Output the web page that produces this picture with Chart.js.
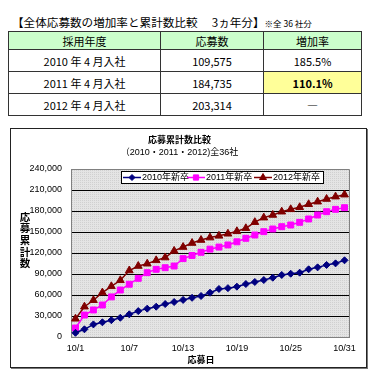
<!DOCTYPE html>
<html><head><meta charset="utf-8">
<script src="https://cdn.jsdelivr.net/npm/chart.js@4/dist/chart.umd.min.js"></script>
<style>
html,body{margin:0;padding:0;background:#fff;width:384px;height:385px;overflow:hidden;font-family:'Noto Sans CJK JP',sans-serif;}
#head{position:absolute;left:12px;top:14px;font-size:11.6px;line-height:16px;white-space:nowrap;color:#000}
#head small{font-size:8.5px;}
table{position:absolute;left:8px;top:31px;border-collapse:collapse;font-size:11px;color:#000;}
td,th{border:1px solid #333;text-align:center;padding:0;font-weight:normal;line-height:14px;}
th{background:#ccffcc;height:17px;}
td{height:21px;}
td.hl{background:#ffff99;font-weight:bold;}
#box{position:absolute;left:10px;top:128px;width:355px;height:238px;border:1px solid #222;box-shadow:1px 1px 0 #777;}
#wrap{position:absolute;left:10px;top:128px;width:366px;height:240px;}
</style></head>
<body>
<div id="head">【全体応募数の増加率と累計数比較　 3ヵ年分】<small>※全 36 社分</small></div>
<table>
<tr><th style="width:151px">採用年度</th><th style="width:102px">応募数</th><th style="width:97px">増加率</th></tr>
<tr><td>2010 年 4 月入社</td><td>109,575</td><td>185.5%</td></tr>
<tr><td>2011 年 4 月入社</td><td>184,735</td><td class="hl">110.1%</td></tr>
<tr><td>2012 年 4 月入社</td><td>203,314</td><td>―</td></tr>
</table>
<div id="box"></div>
<div id="wrap"><canvas id="c" width="366" height="240"></canvas></div>
<script>
const days = ['10/1','10/2','10/3','10/4','10/5','10/6','10/7','10/8','10/9','10/10','10/11','10/12','10/13','10/14','10/15','10/16','10/17','10/18','10/19','10/20','10/21','10/22','10/23','10/24','10/25','10/26','10/27','10/28','10/29','10/30','10/31'];
const seriesNames = ['2010年新卒','2011年新卒','2012年新卒'];
const s2010 = [6000,11000,18000,21000,24000,27500,32400,37000,40500,43300,47100,50000,53000,56000,58600,63300,68600,69800,71900,75700,78600,81400,84700,88600,90400,91900,96700,99500,102900,105200,109575];
const s2011 = [12800,31400,38600,45700,57300,67100,75400,83800,91900,96700,99000,101400,112000,116500,121000,125500,128500,131500,136000,141000,145700,150500,154300,157600,160000,163800,168600,174300,179000,182400,184735];
const s2012 = [26000,43300,52500,63500,72400,81000,95000,101400,104700,109500,113500,123000,128500,134200,138500,142000,144500,147500,151000,155300,164000,170500,174300,179000,182400,185300,189600,193300,197100,200500,203314];
const yTicks = [0,30000,60000,90000,120000,150000,180000,210000,240000];
const chartTitle = '応募累計数比較';
const chartSubtitle = '（2010・2011・2012)全36社';
const yTitle = '応募累計数';
const xTitle = '応募日';

const FONT = "'Liberation Sans','Noto Sans CJK JP',sans-serif";
Chart.defaults.font.family = FONT;

const pat = document.createElement('canvas');
pat.width = 2; pat.height = 2;
const pc = pat.getContext('2d');
pc.fillStyle = '#e4e4e4'; pc.fillRect(0,0,2,2);
pc.fillStyle = '#d0d0d0'; pc.fillRect(0,0,1,1);

const decor = {
  id: 'decor',
  beforeDraw(chart) {
    const {ctx, chartArea: a} = chart;
    ctx.save();
    ctx.fillStyle = ctx.createPattern(pat, 'repeat');
    ctx.fillRect(a.left, a.top, a.right - a.left, a.bottom - a.top);
    ctx.restore();
  },
  afterDraw(chart) {
    const {ctx, chartArea: a} = chart;
    ctx.save();
    ctx.strokeStyle = '#808080'; ctx.lineWidth = 1;
    ctx.beginPath();
    ctx.moveTo(a.left, a.top + 0.5); ctx.lineTo(a.right + 0.5, a.top + 0.5); ctx.lineTo(a.right + 0.5, a.bottom);
    ctx.stroke();
    // legend
    const lx = 111, ly = 43, lw = 202, lh = 12;
    ctx.fillStyle = '#fff'; ctx.fillRect(lx, ly, lw, lh);
    ctx.strokeStyle = '#000'; ctx.strokeRect(lx + 0.5, ly + 0.5, lw, lh);
    const starts = [113, 177, 244];
    chart.data.datasets.forEach((ds, i) => {
      const x0 = starts[i], yc = ly + lh / 2 + 0.5;
      ctx.strokeStyle = ds.borderColor; ctx.lineWidth = 1.5;
      ctx.beginPath(); ctx.moveTo(x0, yc); ctx.lineTo(x0 + 18, yc); ctx.stroke();
      ctx.fillStyle = ds.backgroundColor; ctx.strokeStyle = ds.borderColor; ctx.lineWidth = 1;
      Chart.helpers.drawPoint(ctx, {pointStyle: ds.pointStyle, radius: ds.pointRadius - 0.5, borderWidth: 1, rotation: 0}, x0 + 9, yc);
      ctx.fillStyle = '#000'; ctx.font = '9px ' + FONT; ctx.textBaseline = 'middle'; ctx.textAlign = 'left';
      ctx.fillText(ds.label, x0 + 19, yc);
    });
    // y title stacked
    ctx.font = 'bold 10.5px ' + FONT; ctx.textAlign = 'center'; ctx.textBaseline = 'middle'; ctx.fillStyle = '#000';
    [...yTitle].forEach((ch, i) => ctx.fillText(ch, 15, 90 + i * 11.6));
    ctx.restore();
  }
};

new Chart(document.getElementById('c'), {
  type: 'line',
  data: {
    labels: days,
    datasets: [
      {label: seriesNames[0], data: s2010, borderColor: '#000080', backgroundColor: '#000080', pointStyle: 'rectRot', pointRadius: 3.5, pointBorderWidth: 1, borderWidth: 1.5, tension: 0},
      {label: seriesNames[1], data: s2011, borderColor: '#ff00ff', backgroundColor: '#ff00ff', pointStyle: 'rect', pointRadius: 4.2, pointBorderWidth: 1, borderWidth: 1.5, tension: 0},
      {label: seriesNames[2], data: s2012, borderColor: '#800000', backgroundColor: '#800000', pointStyle: 'triangle', pointRadius: 4.5, pointBorderWidth: 1, borderWidth: 1.5, tension: 0}
    ]
  },
  options: {
    responsive: false, animation: false,
    layout: {padding: {left: 0, right: 27, top: 7, bottom: 0}},
    plugins: {
      legend: {display: false}, tooltip: {enabled: false},
      title: {display: true, text: chartTitle, color: '#000', font: {size: 9, weight: 'bold', lineHeight: 1.3}, padding: {top: 0, bottom: 0}},
      subtitle: {display: true, text: chartSubtitle, color: '#000', font: {size: 9, lineHeight: 1.3}, padding: {top: 0, bottom: 10.6}}
    },
    scales: {
      x: {
        offset: true,
        grid: {display: false, drawTicks: false},
        border: {color: '#808080'},
        ticks: {autoSkip: false, maxRotation: 0, padding: 6, color: '#000', font: {size: 9}, callback: (v, i) => i % 6 === 0 ? days[i] : ''},
        title: {display: true, text: xTitle + '\u3000\u3000', color: '#000', font: {size: 9, weight: 'bold'}, padding: {top: 0, bottom: 1.6}},
        afterFit: s => { s.height = 31; }
      },
      y: {
        min: 0, max: 240000,
        afterBuildTicks: s => { s.ticks = yTicks.map(v => ({value: v})); },
        ticks: {padding: 9, color: '#000', font: {size: 9}, callback: v => v.toLocaleString('en-US')},
        grid: {color: '#000', drawTicks: false},
        border: {color: '#808080'},
        afterFit: s => { s.width = 61; }
      }
    }
  },
  plugins: [decor]
});
</script>
</body></html>
